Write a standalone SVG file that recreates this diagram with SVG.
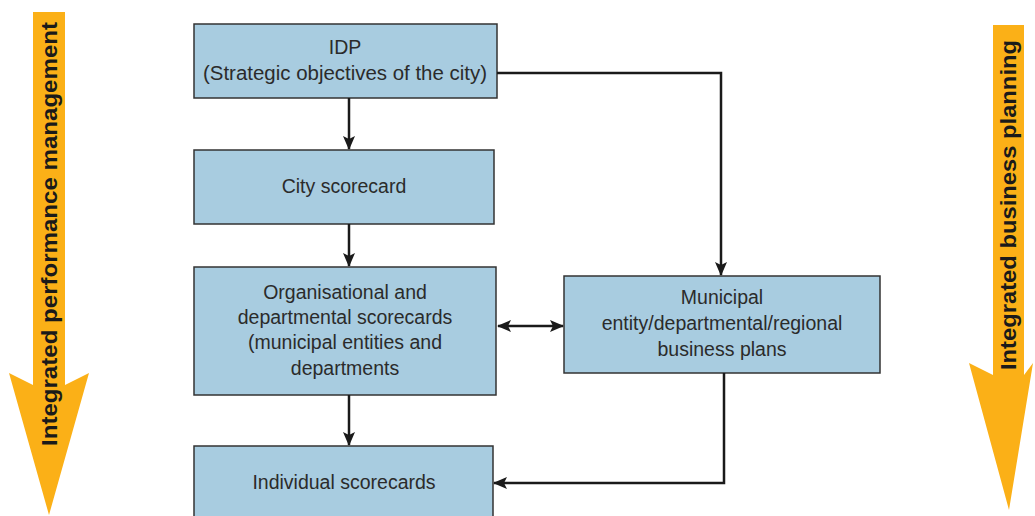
<svg xmlns="http://www.w3.org/2000/svg" width="1035" height="516" viewBox="0 0 1035 516">
<style>
.box{fill:#a8cce0;stroke:#333;stroke-width:1.5}
.t{font-family:"Liberation Sans",Arial,sans-serif;font-size:19.5px;fill:#2b2b2b;text-anchor:middle}
.big{font-family:"Liberation Sans",Arial,sans-serif;font-size:22px;font-weight:bold;fill:#1a1a1a;text-anchor:middle}
.c{fill:none;stroke:#1a1a1a;stroke-width:2.5}
.band{fill:#fbb017}
</style>
<defs>
<marker id="ah" markerWidth="14" markerHeight="12" refX="13" refY="6" orient="auto-start-reverse" markerUnits="userSpaceOnUse" viewBox="0 0 14 12">
<path d="M0,0 L14,6 L0,12 L3,6 Z" fill="#1a1a1a"/>
</marker>
</defs>
<g id="left-band">
<polygon class="band" points="33,12 65,12 65,385 89,373 49,515 9,373 33,385"/>
<text class="big" transform="translate(57,234) rotate(-90)" textLength="424" lengthAdjust="spacingAndGlyphs">Integrated performance management</text>
</g>
<g id="right-band">
<polygon class="band" points="993,25 1024,25 1024,375 1033,363 1009,510 969,363 993,375"/>
<text class="big" transform="translate(1016,205) rotate(-90)" textLength="330" lengthAdjust="spacingAndGlyphs">Integrated business planning</text>
</g>
<g id="idp">
<rect class="box" x="194" y="24" width="303" height="74"/>
<text class="t" x="345" y="54">IDP</text>
<text class="t" x="345" y="80" textLength="284" lengthAdjust="spacingAndGlyphs">(Strategic objectives of the city)</text>
</g>
<g id="city">
<rect class="box" x="194" y="150" width="300" height="74"/>
<text class="t" x="344" y="193">City scorecard</text>
</g>
<g id="org">
<rect class="box" x="194" y="267" width="302" height="128"/>
<text class="t" x="345" y="299">Organisational and</text>
<text class="t" x="345" y="324">departmental scorecards</text>
<text class="t" x="345" y="349">(municipal entities and</text>
<text class="t" x="345" y="375">departments</text>
</g>
<g id="indiv">
<rect class="box" x="194" y="446" width="299" height="80"/>
<text class="t" x="344" y="489">Individual scorecards</text>
</g>
<g id="municipal">
<rect class="box" x="564" y="276" width="316" height="97"/>
<text class="t" x="722" y="304">Municipal</text>
<text class="t" x="722" y="330">entity/departmental/regional</text>
<text class="t" x="722" y="356">business plans</text>
</g>
<g id="connectors">
<line class="c" x1="349" y1="98" x2="349" y2="149" marker-end="url(#ah)"/>
<line class="c" x1="349" y1="224" x2="349" y2="266" marker-end="url(#ah)"/>
<line class="c" x1="349" y1="395" x2="349" y2="445" marker-end="url(#ah)"/>
<polyline class="c" points="497,73 721,73 721,275" marker-end="url(#ah)"/>
<line class="c" x1="498" y1="326" x2="563" y2="326" marker-start="url(#ah)" marker-end="url(#ah)"/>
<polyline class="c" points="724,373 724,483 494,483" marker-end="url(#ah)"/>
</g>
</svg>
